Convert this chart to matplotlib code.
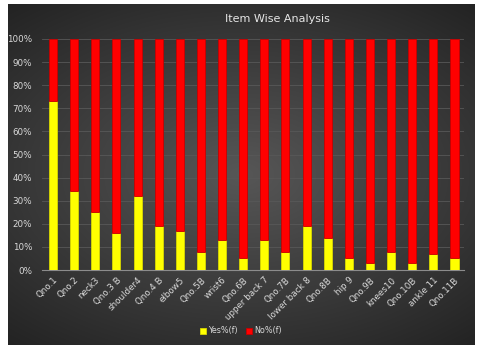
import numpy as np
import matplotlib
matplotlib.use("Agg")
import matplotlib.pyplot as plt
from matplotlib.ticker import PercentFormatter

items = ["Qno.1", "Qno.2", "neck3", "Qno.3 B", "shoulder4", "Qno.4 B", "elbow5",
         "Qno.5B", "wrist6", "Qno.6B", "upper back 7", "Qno.7B", "lower back 8",
         "Qno.8B", "hip 9", "Qno.9B", "knees10", "Qno.10B", "ankle 11", "Qno.11B"]
yes_pct = [73, 34, 25, 16, 32, 19, 17, 8, 13, 5, 13, 8, 19, 14, 5, 3, 8, 3, 7, 5]
no_pct = [100 - v for v in yes_pct]

W, H = 479, 349
fig = plt.figure(figsize=(W / 100, H / 100), dpi=100)
fig.patch.set_facecolor("white")

# dark chart area with a soft radial glow in the middle
bg = fig.add_axes([8 / W, 4 / H, 467 / W, 341 / H])
yy, xx = np.mgrid[-1:1:200j, -1:1:200j]
r = np.sqrt((xx * 0.85) ** 2 + yy ** 2)
glow = np.clip(1 - r / 1.3, 0, 1)
shade = 0.14 + 0.20 * glow
img = np.dstack([shade, shade, shade])
bg.imshow(img, extent=[0, 1, 0, 1], aspect="auto", interpolation="bicubic")
bg.set_axis_off()

ax = fig.add_axes([42 / W, (H - 270) / H, (464 - 42) / W, (270 - 39) / H])
ax.set_facecolor("none")

x = np.arange(len(items))
ax.bar(x, yes_pct, width=0.38, color="#ffff00", edgecolor="#d8d800",
       linewidth=0.6, label="Yes%(f)", zorder=3)
ax.bar(x, no_pct, bottom=yes_pct, width=0.38, color="#ff0000",
       edgecolor="#c80000", linewidth=0.6, label="No%(f)", zorder=3)

ax.set_xlim(-0.52, len(items) - 0.55)
ax.set_ylim(0, 100)
ax.set_yticks(range(0, 101, 10))
ax.yaxis.set_major_formatter(PercentFormatter(decimals=0))
ax.grid(axis="y", color="#585858", linewidth=0.6, zorder=0)

ax.set_xticks(x)
ax.set_xticklabels(items, rotation=45, ha="right", rotation_mode="anchor")
ax.tick_params(axis="both", length=0, colors="#d9d9d9", labelsize=6.3)
ax.tick_params(axis="x", pad=4)
ax.tick_params(axis="y", pad=7)

for side in ["top", "right", "left"]:
    ax.spines[side].set_visible(False)
ax.spines["bottom"].set_color("#8c8c8c")
ax.spines["bottom"].set_linewidth(0.8)

fig.text(277 / W, 1 - 19 / H, "Item Wise Analysis", color="#e6e6e6",
         fontsize=8, ha="center", va="center")

leg = fig.legend(loc="center", bbox_to_anchor=(241 / W, 1 - 331 / H), ncol=2,
                 frameon=False, fontsize=5.8, handlelength=0.7, handleheight=0.7,
                 handletextpad=0.3, columnspacing=1.0)
for t in leg.get_texts():
    t.set_color("#d9d9d9")

fig.savefig("out.png", dpi=100)
